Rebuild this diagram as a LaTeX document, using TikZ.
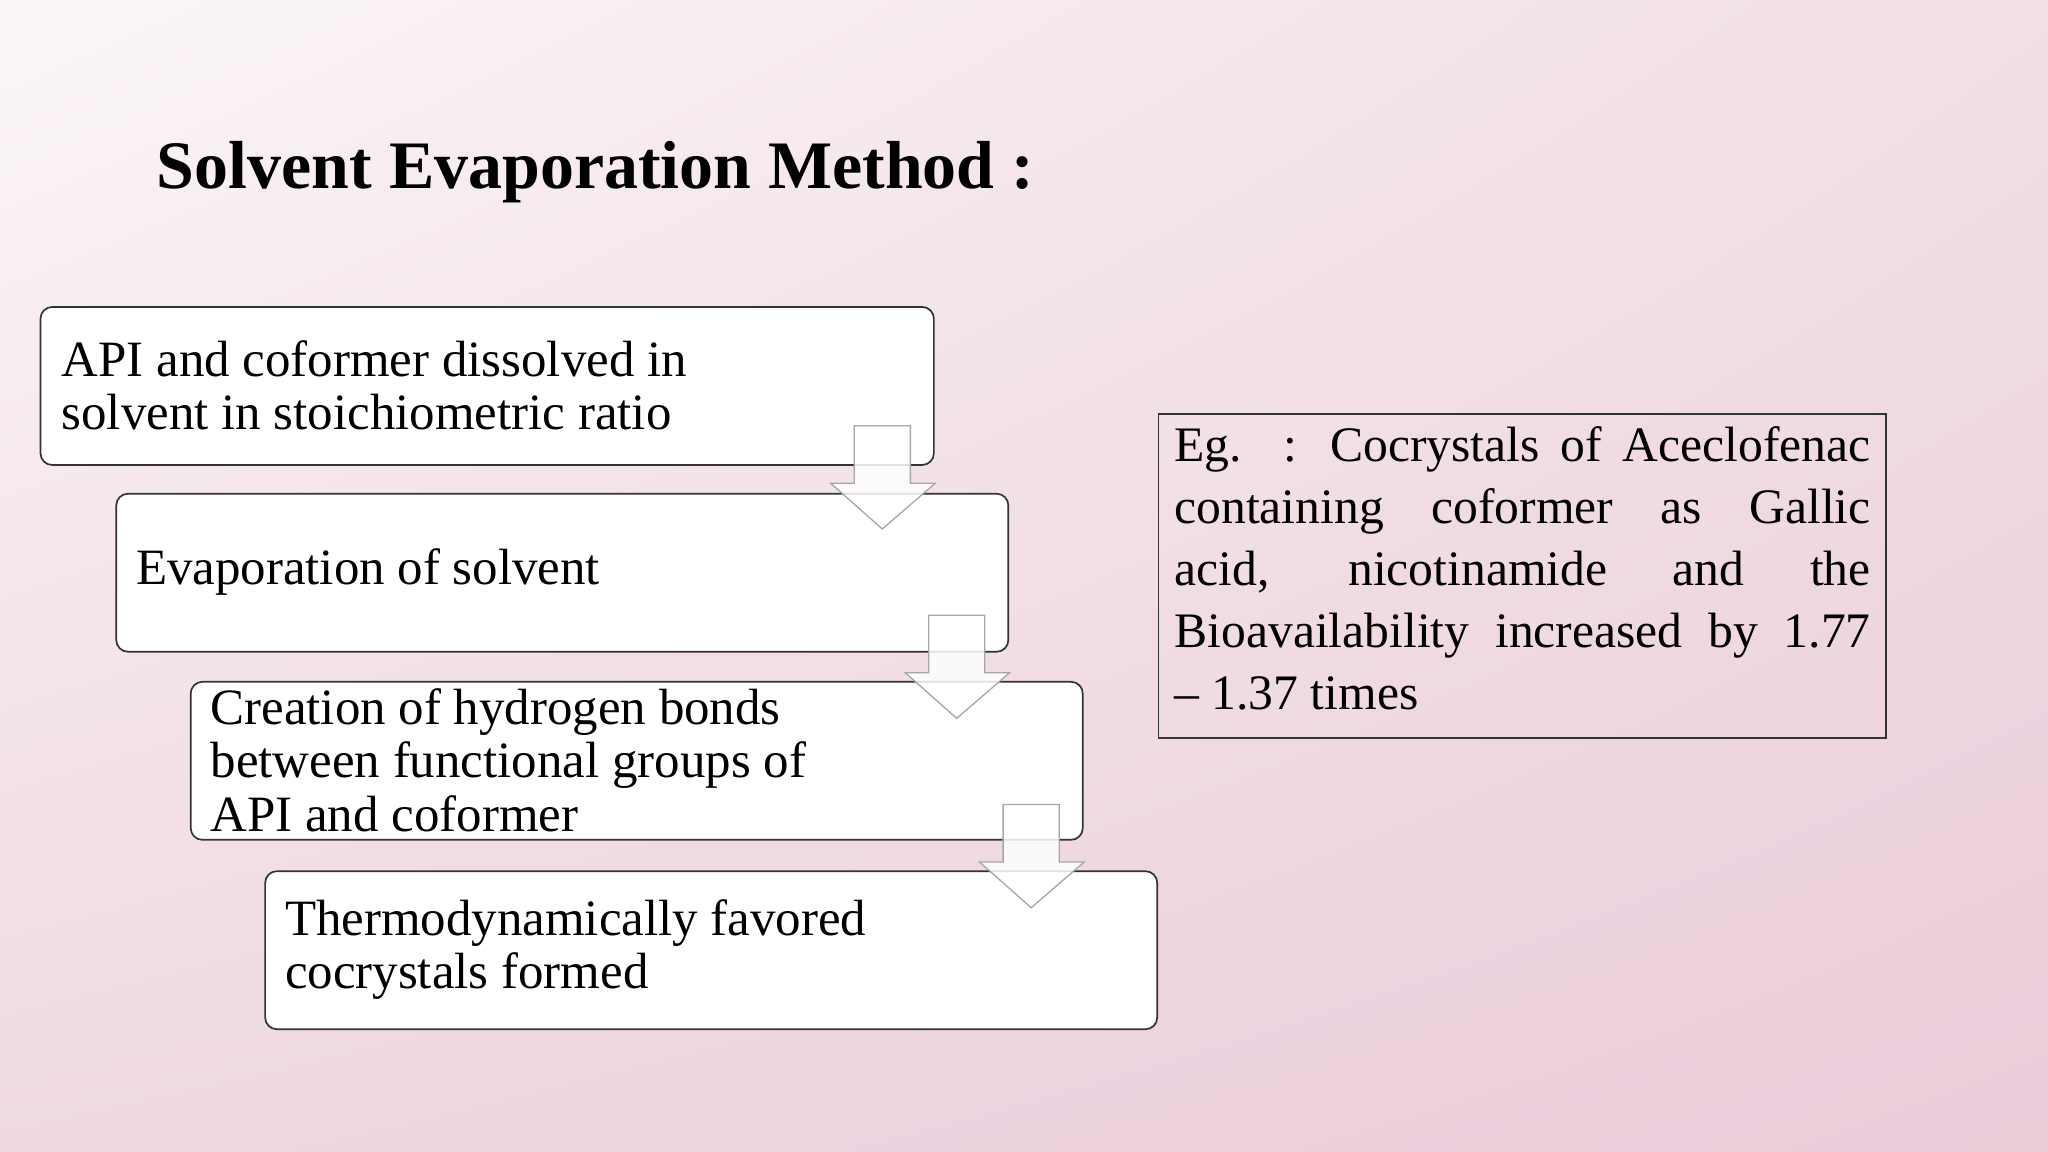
\documentclass[tikz,border=0pt]{standalone}
\usepackage{fontspec}
\setmainfont{Liberation Serif}
\usetikzlibrary{shadings}
\definecolor{bgA}{HTML}{FBF6F8}
\definecolor{bgB}{HTML}{F1DEE6}
\definecolor{bgC}{HTML}{EFD8E2}
\definecolor{bgD}{HTML}{EBCDDA}
\definecolor{edge}{HTML}{333333}
\newcommand{\fullline}[1]{\makebox[533pt][s]{#1}}
\tikzset{
  stepbox/.style={draw=edge,line width=1.3pt,rounded corners=9pt,fill=white},
  boxtext/.style={anchor=west,align=left,font=\fontsize{39}{41}\selectfont,inner sep=0pt},
  downarrow/.style={draw=gray!70,line width=1pt,fill=white,fill opacity=0.85}
}
\begin{document}
\begin{tikzpicture}[x=1pt,y=-1pt]
\useasboundingbox (0,0) rectangle (1568,882);
\shade[upper left=bgA,upper right=bgB,lower left=bgC,lower right=bgD] (0,0) rectangle (1568,882);
\node[anchor=west,inner sep=0pt,font=\bfseries\fontsize{52}{58}\selectfont] (title) at (120,132) {Solvent Evaporation Method :};
\draw[stepbox] (31,235) rectangle (715,356);
\draw[stepbox] (89,378) rectangle (772,499);
\draw[stepbox] (146,522) rectangle (829,643);
\draw[stepbox] (203,667) rectangle (886,788);
\node[boxtext] (t1) at (47,295) {API and coformer dissolved in\\solvent in stoichiometric ratio};
\node[boxtext] (t2) at (104,438) {Evaporation of solvent};
\node[boxtext] (t3) at (161,582) {Creation of hydrogen bonds\\between functional groups of\\API and coformer};
\node[boxtext] (t4) at (218,727) {Thermodynamically favored\\cocrystals formed};
\foreach \dx/\dy [count=\i] in {0/0,57/145,114/290}{
  \draw[downarrow] (654+\dx,326+\dy) -- (697+\dx,326+\dy) -- (697+\dx,370+\dy) -- (716+\dx,370+\dy) -- (675.5+\dx,405+\dy) -- (636+\dx,370+\dy) -- (654+\dx,370+\dy) -- cycle;
}
\draw[draw=edge,line width=1.2pt] (887,317) rectangle (1444,565);
\node[anchor=north west,inner sep=0pt,align=left,font=\fontsize{38}{47.5}\selectfont] (eg) at (899,326)
{\fullline{Eg. : Cocrystals of Aceclofenac}\\
 \fullline{containing coformer as Gallic}\\
 \fullline{acid, nicotinamide and the}\\
 \fullline{Bioavailability increased by 1.77}\\
 – 1.37 times};
\end{tikzpicture}
\end{document}
